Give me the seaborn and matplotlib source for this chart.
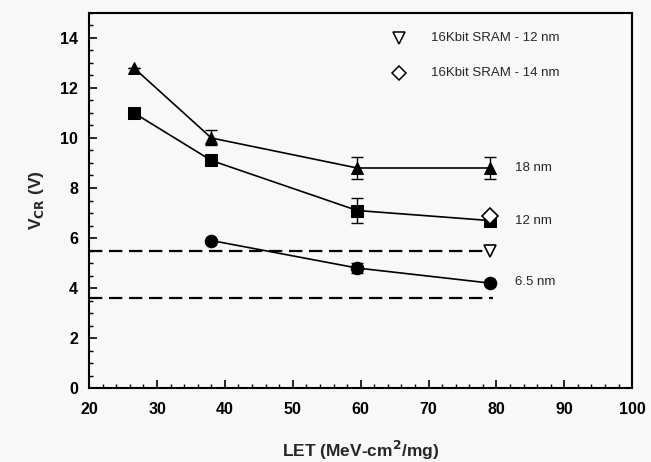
import matplotlib
matplotlib.use("Agg")
import matplotlib.pyplot as plt
import seaborn as sns
import pandas as pd
import numpy as np
from matplotlib.ticker import MultipleLocator

sns.set_theme(style="ticks")
plt.rcParams['font.family'] = ['Liberation Sans', 'DejaVu Sans']

let_18 = [26.6, 38.0, 59.5, 79.0]
v_18 = [12.8, 10.0, 8.8, 8.8]
err_18 = [0.0, 0.3, 0.45, 0.45]

let_12 = [26.6, 38.0, 59.5, 79.0]
v_12 = [11.0, 9.1, 7.1, 6.7]
err_12 = [0.0, 0.0, 0.5, 0.0]

let_65 = [38.0, 59.5, 79.0]
v_65 = [5.9, 4.8, 4.2]
err_65 = [0.0, 0.2, 0.0]

sram12_let, sram12_v = [79.0], [5.5]
sram14_let, sram14_v = [79.0], [6.9]
dash_levels = [5.5, 3.6]
dash_x = [20, 79.5]

series_labels = ["18 nm", "12 nm", "6.5 nm"]
legend_labels = ["16Kbit SRAM - 12 nm", "16Kbit SRAM - 14 nm"]

fig = plt.figure(figsize=(6.51, 4.62), dpi=100)
fig.patch.set_facecolor("#f8f8f8")
ax = fig.add_axes([0.137, 0.160, 0.834, 0.812])
ax.set_facecolor("#f8f8f8")

for lv in dash_levels:
    ax.plot(dash_x, [lv, lv], color="black", lw=1.6, ls=(0, (6, 3)))

df = pd.concat([
    pd.DataFrame({"LET": let_18, "V": v_18, "s": series_labels[0]}),
    pd.DataFrame({"LET": let_12, "V": v_12, "s": series_labels[1]}),
    pd.DataFrame({"LET": let_65, "V": v_65, "s": series_labels[2]}),
])
sns.lineplot(data=df, x="LET", y="V", hue="s", style="s",
             markers={"18 nm": "^", "12 nm": "s", "6.5 nm": "o"},
             dashes=False, palette=["black"] * 3, markersize=9,
             lw=1.2, legend=False, ax=ax, markeredgecolor="black")

for xs, ys, es in [(let_18, v_18, err_18), (let_12, v_12, err_12), (let_65, v_65, err_65)]:
    ax.errorbar(xs, ys, yerr=es, fmt="none", ecolor="black", elinewidth=1, capsize=4)

ax.plot(sram12_let, sram12_v, marker="v", ls="none", mfc="white", mec="black", ms=9, mew=1.2)
ax.plot(sram14_let, sram14_v, marker="D", ls="none", mfc="white", mec="black", ms=8, mew=1.2)

for lab, y in zip(series_labels, [8.8, 6.7, 4.25]):
    ax.text(82.7, y, lab, fontsize=9.5, va="center", ha="left")

ax.plot([65.7], [14.0], marker="v", mfc="white", mec="black", ms=8, mew=1.1, ls="none")
ax.plot([65.7], [12.6], marker="D", mfc="white", mec="black", ms=7, mew=1.1, ls="none")
ax.text(70.3, 14.0, legend_labels[0], fontsize=9.5, va="center")
ax.text(70.3, 12.6, legend_labels[1], fontsize=9.5, va="center")

ax.set_xlim(20, 100)
ax.set_ylim(0, 15)
ax.xaxis.set_major_locator(MultipleLocator(10))
ax.xaxis.set_minor_locator(MultipleLocator(2))
ax.yaxis.set_major_locator(MultipleLocator(2))
ax.yaxis.set_minor_locator(MultipleLocator(0.5))
ax.tick_params(which="both", direction="in", colors="black", labelsize=11.5)
ax.tick_params(which="major", length=6, width=1.2)
ax.tick_params(which="minor", length=3, width=1)
ax.tick_params(axis="x", which="major", pad=10)
ax.tick_params(axis="y", which="major", pad=8)
ax.set_yticks([0, 2, 4, 6, 8, 10, 12, 14])
for t in ax.get_xticklabels() + ax.get_yticklabels():
    t.set_fontweight("bold")
for sp in ax.spines.values():
    sp.set_linewidth(1.5)
    sp.set_color("black")

ax.set_xlabel("LET (MeV-cm$^\\mathbf{2}$/mg)", fontsize=12.5, fontweight="bold", labelpad=16)
ax.set_ylabel("V$_{\\mathbf{CR}}$ (V)", fontsize=12.5, fontweight="bold", labelpad=10)

fig.savefig("out.png", dpi=100, facecolor=fig.get_facecolor())
